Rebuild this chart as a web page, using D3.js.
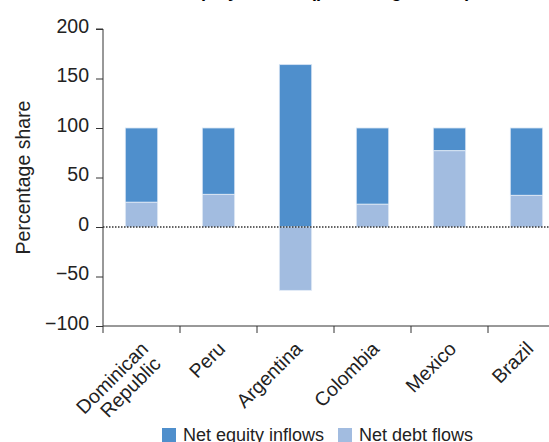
<!DOCTYPE html>
<html>
<head>
<meta charset="utf-8">
<script src="https://cdn.jsdelivr.net/npm/d3@7"></script>
<style>
  body { margin: 0; background: #fff; }
  svg { display: block; font-family: "Liberation Sans", Arial, sans-serif; }
</style>
</head>
<body>
<div id="chart"></div>
<script>
// data
const countries = ["Dominican Republic", "Peru", "Argentina", "Colombia", "Mexico", "Brazil"];
const equityInflows = [75, 67, 164, 77, 23, 68];
const debtFlows = [25, 33, -64, 23, 77, 32];
const yTicks = [-100, -50, 0, 50, 100, 150, 200];
const seriesNames = ["Net equity inflows", "Net debt flows"];

const W = 549, H = 442;
const colors = { equity: "#4f8fcc", debt: "#a2bce0" };
const fs = "19.5px";

const svg = d3.select("#chart").append("svg")
    .attr("width", W)
    .attr("height", H);

const x = d3.scaleBand()
    .domain(countries)
    .range([103, 565])
    .paddingInner(0.58)
    .paddingOuter(0.29);

const y = d3.scaleLinear()
    .domain([-100, 200])
    .range([326, 29]);

// title (mostly cropped off the top in the original)
svg.append("text")
    .attr("x", 327)
    .attr("y", -3)
    .attr("text-anchor", "middle")
    .style("font-size", "18px")
    .style("font-weight", "bold")
    .text("Equity inflows (percentage share)");

// y axis
const yAxis = svg.append("g")
    .attr("transform", `translate(${x.range()[0]},0)`)
    .call(d3.axisLeft(y).tickValues(yTicks).tickSize(7).tickPadding(7)
        .tickFormat(d => d < 0 ? "\u2212" + Math.abs(d) : d))
    .call(g => g.select(".domain").attr("d", `M-7,${y(200)}H0V${y(-100)}`));
yAxis.selectAll("text")
    .style("font-size", fs)
    .attr("fill", "#222")
    .attr("dy", "0.17em");
yAxis.selectAll("line, path").attr("stroke", "#333");

svg.append("text")
    .attr("transform", `translate(30,${(y(200) + y(-100)) / 2}) rotate(-90)`)
    .attr("text-anchor", "middle")
    .style("font-size", fs)
    .attr("fill", "#222")
    .text("Percentage share");

// bars
const rows = countries.map((c, i) => ({ c, equity: equityInflows[i], debt: debtFlows[i] }));

const bars = svg.append("g");
rows.forEach(d => {
    // debt part starts at zero
    const d0 = 0, d1 = d.debt;
    // equity stacked on positive debt, or from zero when debt is negative
    const e0 = d.debt > 0 ? d.debt : 0, e1 = e0 + d.equity;
    bars.append("rect")
        .attr("x", x(d.c))
        .attr("width", x.bandwidth())
        .attr("y", y(Math.max(e0, e1)))
        .attr("height", Math.abs(y(e0) - y(e1)))
        .attr("fill", colors.equity)
        .attr("stroke", "#d6e4f3")
        .attr("stroke-width", 0.8);
    bars.append("rect")
        .attr("x", x(d.c))
        .attr("width", x.bandwidth())
        .attr("y", y(Math.max(d0, d1)))
        .attr("height", Math.abs(y(d0) - y(d1)))
        .attr("fill", colors.debt)
        .attr("stroke", "#e3ebf6")
        .attr("stroke-width", 0.8);
});

// dotted zero line
svg.append("line")
    .attr("x1", x.range()[0])
    .attr("x2", W)
    .attr("y1", y(0))
    .attr("y2", y(0))
    .attr("stroke", "#333")
    .attr("stroke-width", 1.3)
    .attr("stroke-dasharray", "1.5,1.5");

// x axis line and boundary ticks
const xAxis = svg.append("g");
xAxis.append("line")
    .attr("x1", x.range()[0]).attr("x2", W)
    .attr("y1", y(-100)).attr("y2", y(-100))
    .attr("stroke", "#333");
countries.forEach(c => {
    const bx = x(c) + x.bandwidth() / 2 - x.step() / 2;
    xAxis.append("line")
        .attr("x1", bx).attr("x2", bx)
        .attr("y1", y(-100)).attr("y2", y(-100) + 7)
        .attr("stroke", "#333");
});

// rotated category labels
countries.forEach(c => {
    const cx = x(c) + x.bandwidth() / 2;
    const lines = c === "Dominican Republic" ? ["Dominican", "Republic"] : [c];
    const t = xAxis.append("text")
        .attr("transform", `translate(${cx + 8},${y(-100) + 24}) rotate(-45)`)
        .attr("text-anchor", "end")
        .style("font-size", fs)
        .attr("fill", "#222");
    lines.forEach((s, i) => {
        t.append("tspan")
            .attr("x", i === 0 ? 0 : -2)
            .attr("dy", i === 0 ? 0 : "1.0em")
            .text(s);
    });
});

// legend (cut at the bottom edge)
const legendX = [162, 338];
const leg = svg.append("g");
seriesNames.forEach((s, i) => {
    leg.append("rect")
        .attr("x", legendX[i])
        .attr("y", 428)
        .attr("width", 14)
        .attr("height", 14)
        .attr("fill", i === 0 ? colors.equity : colors.debt);
    leg.append("text")
        .attr("x", legendX[i] + 21)
        .attr("y", 441)
        .style("font-size", "18px")
        .attr("fill", "#222")
        .text(s);
});
</script>
</body>
</html>
